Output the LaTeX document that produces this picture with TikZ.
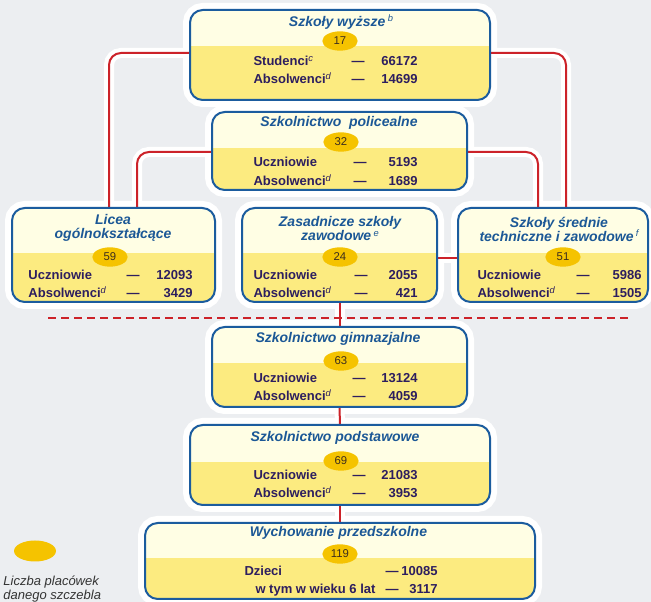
\documentclass[tikz,border=0pt]{standalone}
\usepackage{fontspec}
\usetikzlibrary{calc,shapes.geometric}
\newfontfamily\lvlsans{Liberation Sans}
\newcommand\lvltitlefont{\lvlsans\bfseries\itshape\fontsize{10.5}{10.5}\selectfont}
\newcommand\lvlrowfont{\lvlsans\bfseries\fontsize{9.75}{11}\selectfont}
\newcommand\lvlcountfont{\lvlsans\fontsize{8.5}{9}\selectfont}
\newcommand\lvlnote[1]{\raisebox{3.2pt}{\mdseries\itshape\fontsize{7}{7}\selectfont #1}}
\definecolor{pagebg}{RGB}{236,238,241}
\definecolor{boxtop}{RGB}{255,254,228}
\definecolor{boxlow}{RGB}{252,235,128}
\definecolor{boxedge}{RGB}{27,92,158}
\definecolor{linkred}{RGB}{204,34,41}
\definecolor{countfill}{RGB}{245,195,0}
\definecolor{titleblue}{RGB}{28,88,150}
\definecolor{rowtext}{RGB}{45,30,95}
\definecolor{counttext}{RGB}{60,45,30}
\definecolor{legendtext}{RGB}{51,51,51}
\pgfdeclarelayer{back}
\pgfsetlayers{back,main}
\tikzset{every picture/.style={line width=0.75pt},
  headfrac/.store in=\boxfrac, headfrac=0.45,
  levelbox/.style={rectangle, rounded corners=9.5pt, draw=boxedge, line width=1.5pt, fill=boxtop, inner sep=0pt, outer sep=0pt,
    path picture={\fill[boxlow, sharp corners] (path picture bounding box.south west) rectangle ($(path picture bounding box.north east)!\boxfrac!(path picture bounding box.south east)$);}},
  boxhalo/.style={draw=white, line width=10.5pt, rounded corners=9.5pt},
  redlink/.style={draw=linkred, line width=1.5pt, rounded corners=9pt, preaction={draw=white, line width=7.5pt}},
  sepline/.style={draw=linkred, line width=1pt, dash pattern=on 6pt off 3.75pt},
  lvltitle/.style={font=\lvltitlefont, text=titleblue, inner sep=0pt, align=center},
  lvlrow/.style={font=\lvlrowfont, text=rowtext, inner sep=0pt, text height=7pt, text depth=0pt},
  lvlcount/.style={ellipse, fill=countfill, minimum width=26.5pt, minimum height=14.5pt, inner sep=0pt, font=\lvlcountfont, text=counttext},
  legtext/.style={font=\lvlsans\itshape\fontsize{9.75}{10.5}\selectfont, text=legendtext, inner sep=0pt, align=left}
}

\begin{document}
\begin{tikzpicture}[x=0.75pt,y=0.75pt,yscale=-1,xscale=1]
\useasboundingbox (0,0) rectangle (651,602);

%Rounded Rect -- levels
\node[levelbox, minimum width=225pt, minimum height=67.5pt, headfrac=0.4] (wyz) at (340,55) {};
\node[levelbox, minimum width=191.25pt, minimum height=58.5pt, headfrac=0.4615] (pol) at (339.5,151) {};
\node[levelbox, minimum width=152.25pt, minimum height=70.5pt, headfrac=0.479] (lic) at (113.5,255) {};
\node[levelbox, minimum width=146.25pt, minimum height=70.5pt, headfrac=0.479] (zas) at (339.5,255) {};
\node[levelbox, minimum width=142.5pt, minimum height=70.5pt, headfrac=0.479] (ssr) at (553,255) {};
\node[levelbox, minimum width=191.25pt, minimum height=60pt, headfrac=0.45] (gim) at (339.5,367) {};
\node[levelbox, minimum width=225pt, minimum height=60pt, headfrac=0.4625] (pod) at (340,465) {};
\node[levelbox, minimum width=292.5pt, minimum height=57pt, headfrac=0.46] (prz) at (340,561) {};

% Text Node -- Szkoly wyzsze
\node[lvltitle] (wyzT) at (341,22) {Szkoły wyższe\,\lvlnote{b}};
\node[lvlcount] (wyzN) at (340,41) {17};
\node[lvlrow, anchor=west] (wyzL1) at (253,61) {Studenci\lvlnote{c}};
\node[lvlrow] (wyzD1) at (358,61) {—};
\node[lvlrow, anchor=east] (wyzV1) at (418,61) {66172};
\node[lvlrow, anchor=west] (wyzL2) at (253,79) {Absolwenci\lvlnote{d}};
\node[lvlrow] (wyzD2) at (358,79) {—};
\node[lvlrow, anchor=east] (wyzV2) at (418,79) {14699};

% Text Node -- Szkolnictwo policealne
\node[lvltitle] (polT) at (339,123) {Szkolnictwo\ \ policealne};
\node[lvlcount] (polN) at (341,142) {32};
\node[lvlrow, anchor=west] (polL1) at (253,162) {Uczniowie};
\node[lvlrow] (polD1) at (360,162) {—};
\node[lvlrow, anchor=east] (polV1) at (418,162) {5193};
\node[lvlrow, anchor=west] (polL2) at (253,181) {Absolwenci\lvlnote{d}};
\node[lvlrow] (polD2) at (360,181) {—};
\node[lvlrow, anchor=east] (polV2) at (418,181) {1689};

% Text Node -- Licea
\node[lvltitle] (licT) at (113,228) {Licea\\ogólnokształcące};
\node[lvlcount] (licN) at (110,257) {59};
\node[lvlrow, anchor=west] (licL1) at (28,275) {Uczniowie};
\node[lvlrow] (licD1) at (133,275) {—};
\node[lvlrow, anchor=east] (licV1) at (193,275) {12093};
\node[lvlrow, anchor=west] (licL2) at (28,293) {Absolwenci\lvlnote{d}};
\node[lvlrow] (licD2) at (133,293) {—};
\node[lvlrow, anchor=east] (licV2) at (193,293) {3429};

% Text Node -- Zasadnicze szkoly zawodowe
\node[lvltitle] (zasT) at (340,229) {Zasadnicze szkoły\\zawodowe\,\lvlnote{e}};
\node[lvlcount] (zasN) at (340,257) {24};
\node[lvlrow, anchor=west] (zasL1) at (253,275) {Uczniowie};
\node[lvlrow] (zasD1) at (361,275) {—};
\node[lvlrow, anchor=east] (zasV1) at (418,275) {2055};
\node[lvlrow, anchor=west] (zasL2) at (253,293) {Absolwenci\lvlnote{d}};
\node[lvlrow] (zasD2) at (361,293) {—};
\node[lvlrow, anchor=east] (zasV2) at (418,293) {421};

% Text Node -- Szkoly srednie
\node[lvltitle] (ssrT) at (559,229) {Szkoły średnie\\techniczne i zawodowe\,\lvlnote{f}};
\node[lvlcount] (ssrN) at (563,257) {51};
\node[lvlrow, anchor=west] (ssrL1) at (477,275) {Uczniowie};
\node[lvlrow] (ssrD1) at (583,275) {—};
\node[lvlrow, anchor=east] (ssrV1) at (642,275) {5986};
\node[lvlrow, anchor=west] (ssrL2) at (477,293) {Absolwenci\lvlnote{d}};
\node[lvlrow] (ssrD2) at (583,293) {—};
\node[lvlrow, anchor=east] (ssrV2) at (642,293) {1505};

% Text Node -- Szkolnictwo gimnazjalne
\node[lvltitle] (gimT) at (338,339) {Szkolnictwo gimnazjalne};
\node[lvlcount] (gimN) at (341,361) {63};
\node[lvlrow, anchor=west] (gimL1) at (253,378) {Uczniowie};
\node[lvlrow] (gimD1) at (359,378) {—};
\node[lvlrow, anchor=east] (gimV1) at (418,378) {13124};
\node[lvlrow, anchor=west] (gimL2) at (253,396) {Absolwenci\lvlnote{d}};
\node[lvlrow] (gimD2) at (359,396) {—};
\node[lvlrow, anchor=east] (gimV2) at (418,396) {4059};

% Text Node -- Szkolnictwo podstawowe
\node[lvltitle] (podT) at (335,438) {Szkolnictwo podstawowe};
\node[lvlcount] (podN) at (341,461) {69};
\node[lvlrow, anchor=west] (podL1) at (253,475) {Uczniowie};
\node[lvlrow] (podD1) at (359,475) {—};
\node[lvlrow, anchor=east] (podV1) at (418,475) {21083};
\node[lvlrow, anchor=west] (podL2) at (253,493) {Absolwenci\lvlnote{d}};
\node[lvlrow] (podD2) at (359,493) {—};
\node[lvlrow, anchor=east] (podV2) at (418,493) {3953};

% Text Node -- Wychowanie przedszkolne
\node[lvltitle] (przT) at (338.5,533) {Wychowanie przedszkolne};
\node[lvlcount] (przN) at (340,554) {119};
\node[lvlrow, anchor=west] (przL1) at (244,571) {Dzieci};
\node[lvlrow] (przD1) at (392,571) {—};
\node[lvlrow, anchor=east] (przV1) at (438,571) {10085};
\node[lvlrow, anchor=west] (przL2) at (255,589) {w tym w wieku 6 lat};
\node[lvlrow] (przD2) at (392,589) {—};
\node[lvlrow, anchor=east] (przV2) at (438,589) {3117};

% Legend
\node[lvlcount, minimum width=31.5pt, minimum height=15.75pt] (legN) at (35,551) {};
\node[legtext, anchor=north west] (legT) at (3,575) {Liczba placówek\\danego szczebla};

\begin{pgfonlayer}{back}
\fill[pagebg] (0,0) rectangle (651,602);
\foreach \b in {wyz,pol,lic,zas,ssr,gim,pod,prz}
  \draw[boxhalo] (\b.north west) rectangle (\b.south east);
%Straight Lines
\draw[redlink] ($(wyz.west)+(0,-2)$) -| ($(lic.north)+(-4.5,0)$);
\draw[redlink] ($(wyz.east)+(0,-2)$) -| ($(ssr.north)+(13,0)$);
\draw[redlink] ($(pol.west)+(0,1)$) -| ($(lic.north)+(23.5,0)$);
\draw[redlink] ($(pol.east)+(0,1)$) -| ($(ssr.north)+(-15,0)$);
\draw[redlink] ($(zas.east)+(0,3)$) -- ($(ssr.west)+(0,3)$);
\draw[redlink] (zas.south) -- (gim.north);
\draw[redlink] (gim.south) -- (pod.north);
\draw[redlink] (pod.south) -- (prz.north);
%Dashed Line
\coordinate (sepL) at (48,318);
\coordinate (sepR) at (629,318);
\draw[sepline] (sepL) -- (sepR);
\end{pgfonlayer}
\end{tikzpicture}
\end{document}
